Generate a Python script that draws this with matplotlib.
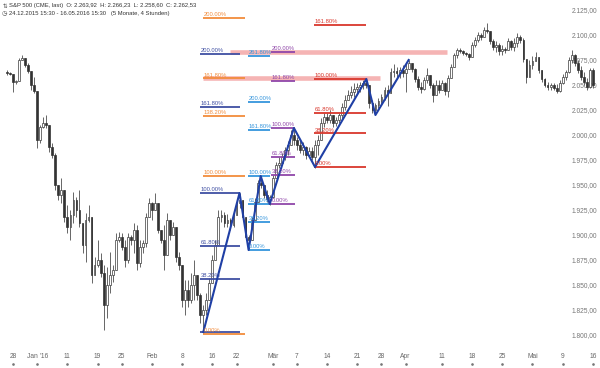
#!/usr/bin/env python3
import numpy as np
from matplotlib import pyplot as plt

plt.rcParams['font.family'] = ['Liberation Sans', 'DejaVu Sans']

# 4h candles (two per trading day), S&P 500 future, 24.12.2015 - 16.05.2016
first_open = 2063
highs = [2065, 2063, 2057, 2055, 2077, 2080, 2077, 2072, 2062, 2058,
         2037, 2010, 2018, 2020, 2010, 1992, 1982, 1948, 1957, 1942,
         1930, 1925, 1943, 1938, 1945, 1912, 1922, 1930, 1912, 1878,
         1895, 1882, 1870, 1868, 1883, 1870, 1902, 1903, 1902, 1895,
         1902, 1900, 1912, 1910, 1895, 1895, 1922, 1937, 1933, 1942,
         1932, 1905, 1910, 1922, 1915, 1913, 1908, 1883, 1867, 1855,
         1855, 1862, 1875, 1860, 1842, 1830, 1842, 1857, 1880, 1895,
         1925, 1925, 1923, 1921, 1917, 1925, 1935, 1942, 1930, 1917,
         1900, 1918, 1937, 1955, 1959, 1950, 1945, 1940, 1960, 1973,
         1978, 1982, 1988, 1994, 2005, 2007, 1998, 1995, 1993, 1989,
         1988, 1988, 1995, 2000, 2017, 2022, 2022, 2025, 2017, 2018,
         2022, 2032, 2040, 2045, 2049, 2052, 2052, 2053, 2055, 2057,
         2045, 2035, 2032, 2037, 2041, 2048, 2050, 2067, 2071, 2068,
         2068, 2070, 2071, 2075, 2072, 2067, 2059, 2053, 2058, 2067,
         2060, 2052, 2055, 2055, 2055, 2053, 2060, 2071, 2082, 2087,
         2087, 2085, 2083, 2082, 2093, 2098, 2103, 2102, 2108, 2112,
         2101, 2096, 2094, 2092, 2090, 2088, 2097, 2095, 2097, 2102,
         2100, 2097, 2073, 2075, 2079, 2083, 2075, 2065, 2057, 2053,
         2052, 2052, 2051, 2055, 2061, 2065, 2078, 2085, 2081, 2075,
         2069, 2063, 2057, 2067, 2067]
lows = [2060, 2060, 2043, 2051, 2060, 2075, 2068, 2062, 2045, 2042,
        1987, 1992, 2007, 2007, 1983, 1977, 1945, 1935, 1932, 1913,
        1902, 1895, 1912, 1918, 1908, 1882, 1873, 1913, 1852, 1862,
        1868, 1858, 1805, 1817, 1842, 1853, 1868, 1893, 1885, 1868,
        1872, 1890, 1882, 1865, 1868, 1882, 1888, 1918, 1915, 1925,
        1902, 1892, 1865, 1882, 1895, 1902, 1873, 1865, 1828, 1820,
        1828, 1832, 1835, 1835, 1812, 1803, 1820, 1837, 1855, 1882,
        1895, 1913, 1908, 1908, 1905, 1908, 1920, 1927, 1915, 1895,
        1885, 1900, 1918, 1937, 1947, 1937, 1933, 1930, 1937, 1957,
        1967, 1972, 1975, 1980, 1993, 1990, 1985, 1982, 1980, 1976,
        1978, 1975, 1967, 1980, 2000, 2008, 2012, 2012, 2008, 2009,
        2012, 2015, 2025, 2035, 2037, 2038, 2042, 2043, 2046, 2047,
        2027, 2022, 2020, 2027, 2031, 2035, 2029, 2050, 2058, 2058,
        2057, 2058, 2043, 2067, 2063, 2053, 2045, 2042, 2045, 2052,
        2047, 2033, 2043, 2042, 2045, 2040, 2038, 2059, 2072, 2077,
        2082, 2080, 2079, 2075, 2083, 2088, 2093, 2095, 2098, 2102,
        2091, 2085, 2083, 2080, 2080, 2082, 2087, 2085, 2084, 2088,
        2092, 2073, 2052, 2060, 2066, 2075, 2062, 2053, 2048, 2045,
        2045, 2045, 2042, 2043, 2051, 2055, 2062, 2072, 2069, 2062,
        2055, 2050, 2045, 2047, 2047]
closes = [2062, 2061, 2053, 2054, 2075, 2077, 2070, 2064, 2050, 2044,
          1995, 2008, 2012, 2010, 1988, 1980, 1950, 1940, 1945, 1918,
          1908, 1920, 1935, 1925, 1912, 1890, 1915, 1918, 1860, 1870,
          1875, 1862, 1830, 1850, 1860, 1865, 1895, 1898, 1888, 1875,
          1898, 1895, 1905, 1872, 1888, 1892, 1918, 1932, 1925, 1932,
          1905, 1895, 1880, 1915, 1900, 1908, 1878, 1870, 1835, 1845,
          1835, 1850, 1860, 1840, 1820, 1825, 1835, 1852, 1875, 1890,
          1918, 1920, 1912, 1915, 1910, 1920, 1932, 1935, 1918, 1898,
          1895, 1915, 1933, 1952, 1950, 1940, 1936, 1938, 1957, 1970,
          1972, 1978, 1985, 1990, 2000, 1995, 1990, 1985, 1988, 1980,
          1984, 1978, 1990, 1995, 2012, 2018, 2015, 2020, 2012, 2015,
          2020, 2028, 2035, 2040, 2043, 2046, 2048, 2050, 2052, 2050,
          2032, 2025, 2030, 2034, 2038, 2045, 2042, 2063, 2064, 2062,
          2065, 2062, 2066, 2072, 2066, 2056, 2048, 2046, 2055, 2060,
          2050, 2040, 2050, 2045, 2052, 2044, 2057, 2068, 2080, 2085,
          2084, 2082, 2081, 2078, 2090, 2095, 2100, 2098, 2105, 2104,
          2094, 2088, 2090, 2084, 2086, 2085, 2094, 2088, 2092, 2098,
          2095, 2076, 2058, 2070, 2074, 2078, 2065, 2056, 2050, 2048,
          2050, 2047, 2044, 2052, 2058, 2063, 2075, 2080, 2072, 2065,
          2058, 2053, 2048, 2065, 2050]

# zigzag swing points (bar index, price)
zz_bars = [65, 77, 80, 84, 87, 95, 102, 119, 122, 133]
zz_prices = [1803, 1942, 1885, 1959, 1931, 2007, 1968, 2056, 2020, 2075]

# fibonacci extensions: 0% price, 100% price, levels
fib_sets = [
    dict(p0=1803, p1=1942, levels=[0, 38.2, 61.8, 100, 161.8, 200], x0=63.9, x1=77.2,
         color='#3f4fa3', label0=False),
    dict(p0=1801, p1=1959, levels=[0, 100, 138.2, 161.8, 200], x0=64.9, x1=78.8,
         color='#f28c3c', label0=True),
    dict(p0=1885, p1=1959, levels=[0, 38.2, 61.8, 100, 161.8, 200, 261.8], x0=79.8, x1=87.0,
         color='#3595dc', label0=True),
    dict(p0=1931, p1=2007, levels=[0, 38.2, 61.8, 100, 161.8, 200], x0=87.3, x1=95.5,
         color='#9047a9', label0=True),
    dict(p0=1968, p1=2056, levels=[0, 38.2, 61.8, 100, 161.8], x0=101.7, x1=119.0,
         color='#d9372c', label0=True),
]

# cluster zones
band_prices = [2083, 2057]
band_start = [73.8, 64.9]
band_end = [145.7, 123.5]

tick_bars = [2, 10, 20, 30, 38, 48, 58, 68, 76, 88, 96, 106, 116, 124, 132, 144, 154, 164, 174, 184, 194]
tick_labels = ['28', "Jan '16", '11', '19', '25', 'Feb', '8', '16', '22', 'Mär', '7',
               '14', '21', '28', 'Apr', '11', '18', '25', 'Mai', '9', '16']
price_ticks = np.arange(1800, 2126, 25)

fig = plt.figure(figsize=(6, 3.68), dpi=100)
ax = fig.add_axes([0, 23 / 368, 1, 345 / 368])
ax.set_xlim(-7 / 3.02, 593 / 3.02)
ax.set_ylim(1790, 2135)
for s in ax.spines.values():
    s.set_visible(False)

# candles
x = np.arange(len(closes))
c = np.array(closes, dtype=float)
o = np.concatenate([[first_open], c[:-1]])
h = np.maximum(np.array(highs), np.maximum(o, c))
l = np.minimum(np.array(lows), np.minimum(o, c))
ax.vlines(x, l, h, color='#666666', lw=0.7, zorder=2)
up = c >= o
bot = np.minimum(o, c)
bh = np.maximum(np.abs(c - o), 0.8)
ax.bar(x[up], bh[up], bottom=bot[up], width=0.6, color='white',
       edgecolor='#3a3a3a', lw=0.5, zorder=3)
ax.bar(x[~up], bh[~up], bottom=bot[~up], width=0.6, color='#333333',
       edgecolor='#333333', lw=0.5, zorder=3)

# zones
for p, a, b in zip(band_prices, band_start, band_end):
    ax.hlines(p, a, b, color='#f08c8c', lw=3.3, alpha=0.65, zorder=4)

# fib levels
for fs in fib_sets:
    for lv in fs['levels']:
        p = fs['p0'] + lv / 100 * (fs['p1'] - fs['p0'])
        ax.hlines(p, fs['x0'], fs['x1'], color=fs['color'], lw=1.3, zorder=5)
        if lv == 0 and not fs['label0']:
            continue
        ax.text(fs['x0'] + 0.2, p + 0.8, f'{lv:.2f}%', color=fs['color'],
                fontsize=4.2, va='bottom', ha='left', zorder=7)

# zigzag
ax.plot(zz_bars, zz_prices, color='#1f3fa5', lw=1.5, zorder=6)

# axes
ax.set_yticks(price_ticks)
ax.set_yticklabels([f'{v:,.2f}'.replace(',', 'X').replace('.', ',').replace('X', '.') for v in price_ticks])
ax.yaxis.tick_right()
ax.tick_params(axis='y', length=0, pad=-2, labelsize=4.8, labelcolor='#777777')
for t in ax.get_yticklabels():
    t.set_ha('right')
ax.set_xticks(tick_bars, tick_labels)
ax.tick_params(axis='x', length=0, pad=5.5, labelsize=4.8, labelcolor='#666666')
ax.scatter(tick_bars, [-0.055] * len(tick_bars), transform=ax.get_xaxis_transform(),
           s=0.8, c='#777777', clip_on=False)

# header
fig.text(3 / 600, 1 - 6 / 368, '⇅', fontsize=4, color='#444444', va='center', family='DejaVu Sans')
fig.text(9 / 600, 1 - 6 / 368,
         'S&P 500 (CME, last)  O: 2.263,92  H: 2.266,23  L: 2.258,60  C: 2.262,53',
         fontsize=4.2, color='#333333', va='center')
fig.text(2 / 600, 1 - 14 / 368, '◷', fontsize=4.5, color='#444444', va='center', family='DejaVu Sans')
fig.text(9 / 600, 1 - 14 / 368,
         '24.12.2015 15:30 - 16.05.2016 15:30   (5 Monate, 4 Stunden)',
         fontsize=4.2, color='#333333', va='center')

fig.savefig('out.png', dpi=100)
